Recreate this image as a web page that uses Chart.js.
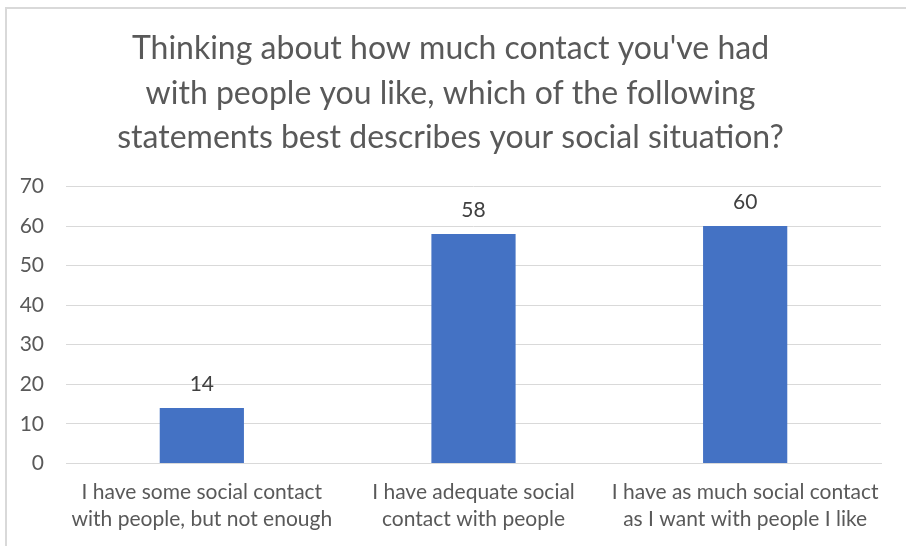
<!DOCTYPE html>
<html>
<head>
<meta charset="utf-8">
<script src="https://cdn.jsdelivr.net/npm/chart.js@4"></script>
<style>
  html, body { margin: 0; padding: 0; background: #fff; }
  #wrap { width: 906px; height: 546px; }
</style>
</head>
<body>
<div id="wrap"><canvas id="contact-chart"></canvas></div>
<script>
const categories = [
  ['I have some social contact', 'with people, but not enough'],
  ['I have adequate social', 'contact with people'],
  ['I have as much social contact', 'as I want with people I like']
];
const responses = [14, 58, 60];
const titleLines = [
  "Thinking about how much contact you've had",
  'with people you like, which of the following',
  'statements best describes your social situation?'
];

const FONT = 'Lato, "Open Sans", sans-serif';

// value printed above each bar
const barValues = {
  id: 'barValues',
  afterDatasetsDraw(chart) {
    const ctx = chart.ctx;
    ctx.save();
    ctx.font = '21px ' + FONT;
    ctx.fillStyle = '#404040';
    ctx.textAlign = 'center';
    ctx.textBaseline = 'middle';
    chart.getDatasetMeta(0).data.forEach((bar, i) => {
      ctx.fillText(chart.data.datasets[0].data[i], bar.x, bar.y - 24);
    });
    ctx.restore();
  }
};

// thin frame on the left and top edges
const frame = {
  id: 'frame',
  beforeDraw(chart) {
    const ctx = chart.ctx;
    ctx.save();
    ctx.strokeStyle = '#d9d9d9';
    ctx.lineWidth = 2;
    ctx.beginPath();
    ctx.moveTo(6, 560);
    ctx.lineTo(6, 8);
    ctx.lineTo(910, 8);
    ctx.stroke();
    ctx.restore();
  }
};

const contactChart = new Chart(document.getElementById('contact-chart'), {
  type: 'bar',
  data: {
    labels: categories,
    datasets: [{
      label: 'Responses',
      data: responses,
      backgroundColor: '#4472c4',
      categoryPercentage: 1,
      barPercentage: 0.31
    }]
  },
  options: {
    responsive: true,
    maintainAspectRatio: false,
    animation: false,
    layout: {
      padding: { left: 20, right: 25, top: 14, bottom: -2 }
    },
    scales: {
      x: {
        grid: { display: false, drawTicks: false },
        border: { color: '#d9d9d9' },
        ticks: {
          color: '#595959',
          font: { family: FONT, size: 21, lineHeight: 1.3 },
          padding: 15,
          maxRotation: 0
        }
      },
      y: {
        min: 0,
        max: 70,
        afterFit(scale) { scale.width = 46; },
        grid: { color: '#d9d9d9', drawTicks: false },
        border: { display: false },
        ticks: {
          stepSize: 10,
          color: '#595959',
          font: { family: FONT, size: 21 },
          padding: 22
        }
      }
    },
    plugins: {
      legend: { display: false },
      tooltip: { enabled: false },
      title: {
        display: true,
        text: titleLines,
        color: '#595959',
        font: { family: FONT, size: 32, weight: 'normal', lineHeight: 1.38 },
        padding: { top: 13, bottom: 27 }
      }
    }
  },
  plugins: [barValues, frame]
});
</script>
</body>
</html>
